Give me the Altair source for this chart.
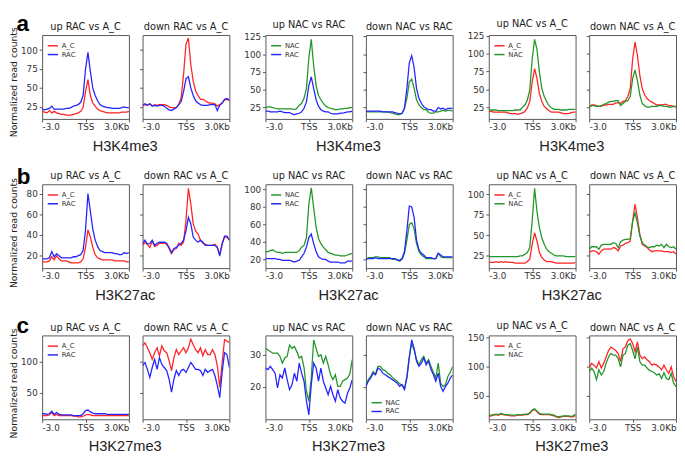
import altair as alt
import pandas as pd

BINS = list(range(37))
X_TICKS = [0, 18, 36]
X_LABELS = ["-3.0", "TSS", "3.0Kb"]

RED = "#ff2424"
BLUE = "#2424ff"
GREEN = "#22962a"

# ---------------- row a : H3K4me3 ----------------
a1_AC = [19,18,17,20,17,19,17,16,15,15, 14,14,14,15,16,17,19,24,45,61, 40,30,26,22,20,19,18,17,17,17, 17,17,17,18,18,18,19]
a1_RAC = [22,21,22,23,26,22,22,22,22,22, 23,23,24,26,27,28,31,40,75,97, 72,50,40,33,28,26,25,24,24,23, 23,23,23,24,25,24,24]
a2_AC = [27,28,27,29,26,28,27,28,28,28, 27,25,24,24,24,28,37,68,108,116, 81,59,46,40,35,35,33,31,30,30, 29,26,28,30,34,35,33]
a2_RAC = [27,29,27,29,26,27,26,27,27,26, 23,21,20,22,24,28,32,45,62,65, 50,40,33,30,28,27,27,27,28,28, 28,20,27,30,35,36,34]
a3_NAC = [25,26,26,25,24,23,23,23,23,23, 23,23,22,24,28,31,38,52,95,121, 84,56,42,36,31,27,25,24,23,22, 22,23,23,24,24,25,25]
a3_RAC = [20,20,19,19,19,19,20,19,18,18, 18,16,15,16,17,19,24,33,56,68, 52,36,27,22,20,19,19,17,16,16, 16,17,17,18,19,19,20]
a4_NAC = [19,19,19,19,19,19,19,19,19,19, 18,17,16,15,15,17,24,38,61,65, 52,36,29,25,22,22,18,17,17,19, 19,20,21,20,21,21,20]
a4_RAC = [20,20,20,20,20,20,20,19,19,19, 19,19,18,17,16,17,24,52,88,98, 81,52,38,31,26,24,22,22,20,20, 25,23,24,22,24,24,24]
a5_AC = [19,19,18,18,18,18,18,18,17,16, 16,16,15,16,17,19,24,33,60,79, 65,44,33,26,23,20,18,18,18,18, 17,16,16,16,17,18,18]
a5_NAC = [21,21,21,21,20,20,20,20,20,20, 20,21,21,21,25,28,35,49,92,120, 106,74,51,40,33,27,24,22,22,22, 21,21,21,22,22,22,22]
a6_AC = [25,28,28,27,26,26,28,28,29,29, 29,31,31,30,33,34,40,51,92,116, 97,69,51,42,37,34,32,30,28,28, 28,29,29,27,27,26,25]
a6_NAC = [25,27,27,26,26,27,29,30,32,33, 33,34,34,27,30,33,34,40,65,77, 62,42,30,27,25,25,26,26,26,27, 27,26,26,25,25,26,26]

# ---------------- row b : H3K27ac ----------------
b1_AC = [14,14,14,15,19,16,20,17,15,15, 15,14,13,13,13,13,14,17,28,45, 38,28,21,18,17,16,16,16,16,16, 15,15,15,15,15,14,14]
b1_RAC = [17,17,17,18,24,19,22,20,18,18, 18,18,18,19,19,20,21,25,45,80, 63,46,35,29,25,24,23,23,23,23, 22,22,21,21,23,22,23]
b2_AC = [30,33,31,28,34,29,30,32,32,32, 31,27,22,26,27,32,30,33,54,85, 70,51,44,41,35,32,31,30,30,30, 31,28,21,32,38,38,35]
b2_RAC = [32,35,31,32,35,30,32,33,33,33, 32,28,23,27,28,30,32,35,44,57, 51,38,35,33,35,33,30,30,30,30, 30,28,20,31,39,39,35]
b3_NAC = [29,29,30,31,29,28,28,27,28,28, 28,28,28,28,30,34,36,45,83,102, 79,57,44,38,34,31,28,27,26,25, 25,24,24,24,25,26,27]
b3_RAC = [21,21,21,21,21,20,20,19,19,19, 19,18,17,18,19,23,27,34,45,49, 38,29,23,21,20,20,18,17,17,17, 17,16,16,16,18,18,18]
b4_NAC = [20,22,22,22,23,23,22,22,22,22, 22,20,20,20,18,20,27,42,60,62, 55,38,29,25,23,21,21,21,21,21, 27,23,22,22,22,22,22]
b4_RAC = [20,21,21,21,22,21,21,21,21,21, 21,21,21,19,19,21,29,53,81,80, 68,42,31,27,25,22,22,22,21,21, 27,25,23,23,23,23,23]
b5_AC = [17,17,17,18,17,18,17,18,17,17, 17,16,16,16,16,16,18,21,39,53, 43,29,23,20,18,18,18,17,16,16, 16,16,16,16,16,16,17]
b5_NAC = [24,24,24,24,24,24,24,24,24,24, 24,24,24,25,25,27,29,35,67,107, 79,59,47,39,33,30,28,26,25,25, 25,25,24,24,24,24,24]
b6_AC = [29,31,31,30,27,31,33,33,33,33, 35,34,31,37,38,40,41,43,67,88, 71,51,39,37,35,32,30,31,31,31, 31,30,30,30,29,30,27]
b6_NAC = [33,36,36,36,33,38,39,39,39,39, 41,40,35,42,44,45,45,46,67,77, 65,49,41,38,36,35,36,36,38,37, 39,35,39,36,35,36,33]

# ---------------- row c : H3K27me3 ----------------
c1_AC = [13,13,13,14,18,13,15,13,13,13, 13,13,13,12,12,11,11,12,14,15, 14,13,13,13,13,13,13,13,13,13, 13,13,13,13,13,13,13]
c1_RAC = [16,16,15,16,20,15,18,15,14,14, 14,14,14,13,13,13,13,16,21,22, 19,17,16,16,16,16,16,15,15,15, 15,15,15,15,15,15,15]
c2_AC = [126,131,123,115,104,115,123,110,126,118, 115,102,86,107,120,112,118,123,115,123, 137,128,120,115,123,110,120,112,112,120, 112,94,59,99,136,134,131]
c2_RAC = [94,99,88,75,91,104,88,107,96,91, 86,72,51,72,86,78,86,88,83,91, 99,94,88,88,86,78,88,83,86,88, 78,62,42,83,115,112,91]
c3_NAC = [32,31.5,31,30.5,30.5,30.5,29.5,27.4,29,29.5, 33,32,32.6,31,29,29.5,26,18.7,15.6,22.8, 34.6,32,29.5,30,27.4,29.5,26.9,23.8,22.3,23.8, 20.2,20.2,21.8,22.3,22.8,24,28.5]
c3_RAC = [25.9,25.4,26.4,25.4,24.3,19.7,23.8,22.8,25.9,22.3, 19.2,20.7,24.3,21.8,27.4,24.3,21.8,15.6,11.4,20.7, 27.4,25.9,21.8,25.9,21.8,19.7,17.6,20.2,17.6,15.6, 19.2,16.6,15.6,15,18,19.7,22.3]
c4_NAC = [20.5,22.3,23.3,24.8,24,26.4,26.4,25.4,25.1,24.3, 23.8,23,22.3,21.8,21,20.6,19.5,23.3,29.5,33.6, 31.5,28.5,26.9,28.5,29.5,27.4,28.5,26.4,24.6,22.8, 27.4,21.2,20.2,20.7,23.3,24.6,26.4]
c4_RAC = [20.2,21.8,22.8,24.3,23.8,25.9,25.4,24.3,23.8,23.3, 22.8,22.3,21.8,21.2,20.2,20.7,19.2,22.8,29,34.6, 32,28,26.4,27.4,29,26.9,28,25.4,23.8,21.8, 24.3,20.2,18.7,20.2,21.2,22.8,23.8]
c5_AC = [15,16,17,18,17,19,18,17,17,16, 16,16,17,17,17,18,18,20,25,27, 23,19,18,18,18,18,17,16,14,13, 14,15,15,15,14,14,17]
c5_NAC = [17,17,18,19,18,20,19,18,18,17, 17,17,18,18,18,19,19,21,26,28, 24,20,19,19,19,19,18,17,15,14, 15,16,16,16,15,16,19]
c6_AC = [98,106,103,98,109,98,106,117,128,134, 131,128,123,109,131,134,145,148,140,126, 143,120,114,117,112,109,103,105,103,100, 95,103,95,89,100,83,75]
c6_NAC = [92,98,92,78,95,86,92,106,117,123, 120,120,114,100,120,123,137,140,128,114, 134,109,103,103,98,94,92,90,86,88, 80,90,80,78,89,72,66]

W = 89
H = 86
FONT = "DejaVu Sans"
FRAME = "#555555"
YT = "Normalized read counts"

label_expr = " : ".join(
    f"datum.value == {v} ? '{t}'" for v, t in zip(X_TICKS[:-1], X_LABELS[:-1])
) + f" : '{X_LABELS[-1]}'"


def panel(title, series, ydom, yticks, left, legend=None):
    rows = []
    for name, vals, _ in series:
        for b, v in zip(BINS, vals):
            rows.append({"bin": b, "value": v, "series": name})
    df = pd.DataFrame(rows)
    names = [s[0] for s in series]
    cols = [s[2] for s in series]

    if legend:
        leg = alt.Legend(orient=legend, title=None, symbolType="stroke", symbolSize=110,
                         symbolStrokeWidth=1.5, labelFontSize=7, labelFont=FONT,
                         labelColor="#333333", rowPadding=-1, padding=1, offset=4,
                         labelOffset=3, labelLimit=60)
    else:
        leg = None

    xax = alt.Axis(values=X_TICKS, labelExpr=label_expr, labelFlush=True, tickSize=3,
                   labelPadding=1, labelFontSize=9, labelFont=FONT, labelColor="#333333",
                   tickColor=FRAME, domain=False, grid=False, title=None, labelAngle=0)
    if left:
        yax = alt.Axis(values=yticks, tickSize=3, labelPadding=2, labelFontSize=9,
                       labelFont=FONT, labelColor="#333333", tickColor=FRAME, domain=False,
                       grid=False, minExtent=22, maxExtent=22, title=None)
    else:
        yax = alt.Axis(values=yticks, labels=False, tickSize=3, tickColor=FRAME,
                       domain=False, grid=False, minExtent=3, maxExtent=3, title=None)

    lines = alt.Chart(df).mark_line(strokeWidth=1.3, clip=True).encode(
        x=alt.X("bin:Q", scale=alt.Scale(domain=[0, 36], nice=False, zero=False), axis=xax),
        y=alt.Y("value:Q", scale=alt.Scale(domain=ydom, nice=False, zero=False), axis=yax),
        color=alt.Color("series:N", scale=alt.Scale(domain=names, range=cols), legend=leg),
    )
    ttl = alt.TitleParams(title, fontSize=10, font=FONT, fontWeight="normal",
                          color="#222222", offset=3)
    return lines.properties(width=W, height=H, title=ttl)


def pair(p1, p2, label):
    return alt.hconcat(
        p1, p2, spacing=9,
        title=alt.TitleParams(label, orient="bottom", anchor="middle", fontSize=15,
                              font="Liberation Sans", fontWeight="normal",
                              color="#222222", offset=7),
    ).resolve_scale(color="independent").resolve_legend(color="independent")


def row(pairs, letter):
    inner = alt.hconcat(
        *pairs, spacing=13,
        title=alt.TitleParams(YT, orient="left", anchor="middle", fontSize=9.5,
                              font=FONT, fontWeight="normal", color="#222222",
                              offset=2, dx=4),
    ).resolve_scale(color="independent").resolve_legend(color="independent")
    return alt.hconcat(
        inner,
        title=alt.TitleParams(letter, orient="top", anchor="start", fontSize=23,
                              font="Liberation Sans", fontWeight="bold", color="black",
                              offset=-18, dx=8),
    ).resolve_scale(color="independent").resolve_legend(color="independent")


rowA = row([
    pair(panel("up RAC vs A_C", [("A_C", a1_AC, RED), ("RAC", a1_RAC, BLUE)], [9, 120], [25, 50, 75, 100], True, "top-left"),
         panel("down RAC vs A_C", [("A_C", a2_AC, RED), ("RAC", a2_RAC, BLUE)], [9, 120], [25, 50, 75, 100], False),
         "H3K4me3"),
    pair(panel("up NAC vs RAC", [("NAC", a3_NAC, GREEN), ("RAC", a3_RAC, BLUE)], [9, 127], [25, 50, 75, 100, 125], True, "top-left"),
         panel("down NAC vs RAC", [("NAC", a4_NAC, GREEN), ("RAC", a4_RAC, BLUE)], [9, 127], [25, 50, 75, 100, 125], False),
         "H3K4me3"),
    pair(panel("up NAC vs A_C", [("A_C", a5_AC, RED), ("NAC", a5_NAC, GREEN)], [8.5, 126], [25, 50, 75, 100, 125], True, "top-left"),
         panel("down NAC vs A_C", [("A_C", a6_AC, RED), ("NAC", a6_NAC, GREEN)], [8.5, 126], [25, 50, 75, 100, 125], False),
         "H3K4me3"),
], "a")

rowB = row([
    pair(panel("up RAC vs A_C", [("A_C", b1_AC, RED), ("RAC", b1_RAC, BLUE)], [8, 89], [20, 40, 60, 80], True, "top-left"),
         panel("down RAC vs A_C", [("A_C", b2_AC, RED), ("RAC", b2_RAC, BLUE)], [8, 89], [20, 40, 60, 80], False),
         "H3K27ac"),
    pair(panel("up NAC vs RAC", [("NAC", b3_NAC, GREEN), ("RAC", b3_RAC, BLUE)], [10, 106], [20, 40, 60, 80, 100], True, "top-left"),
         panel("down NAC vs RAC", [("NAC", b4_NAC, GREEN), ("RAC", b4_RAC, BLUE)], [10, 106], [20, 40, 60, 80, 100], False),
         "H3K27ac"),
    pair(panel("up NAC vs A_C", [("A_C", b5_AC, RED), ("NAC", b5_NAC, GREEN)], [10, 112], [25, 50, 75, 100], True, "top-left"),
         panel("down NAC vs A_C", [("A_C", b6_AC, RED), ("NAC", b6_NAC, GREEN)], [10, 112], [25, 50, 75, 100], False),
         "H3K27ac"),
], "b")

rowC = row([
    pair(panel("up RAC vs A_C", [("A_C", c1_AC, RED), ("RAC", c1_RAC, BLUE)], [7, 143], [50, 100], True, "top-left"),
         panel("down RAC vs A_C", [("A_C", c2_AC, RED), ("RAC", c2_RAC, BLUE)], [7, 143], [50, 100], False),
         "H3K27me3"),
    pair(panel("up NAC vs RAC", [("NAC", c3_NAC, GREEN), ("RAC", c3_RAC, BLUE)], [10, 36], [20, 30], True),
         panel("down NAC vs RAC", [("NAC", c4_NAC, GREEN), ("RAC", c4_RAC, BLUE)], [10, 36], [20, 30], False, "bottom-left"),
         "H3K27me3"),
    pair(panel("up NAC vs A_C", [("A_C", c5_AC, RED), ("NAC", c5_NAC, GREEN)], [10, 154], [50, 100, 150], True, "top-left"),
         panel("down NAC vs A_C", [("A_C", c6_AC, RED), ("NAC", c6_NAC, GREEN)], [10, 154], [50, 100, 150], False),
         "H3K27me3"),
], "c")

chart = alt.vconcat(rowA, rowB, rowC, spacing=12).resolve_scale(
    color="independent").resolve_legend(color="independent").properties(
    padding=0, background="white"
).configure_view(stroke=FRAME, strokeWidth=1)

chart.save("out.html", embed_options={"renderer": "svg", "actions": False})
